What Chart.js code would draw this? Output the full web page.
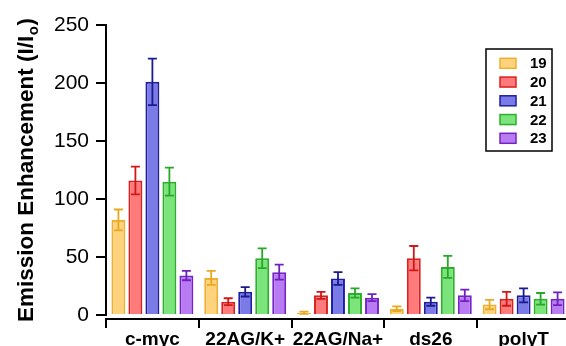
<!DOCTYPE html>
<html>
<head>
<meta charset="utf-8">
<script src="https://cdn.jsdelivr.net/npm/chart.js@4"></script>
<style>
  html, body { margin: 0; padding: 0; background: #fff; overflow: hidden; }
  #wrap { width: 572px; height: 346px; }
</style>
</head>
<body>
<div id="wrap"><canvas id="chart"></canvas></div>
<script>
// data
const categories = ["c-myc", "22AG/K+", "22AG/Na+", "ds26", "polyT"];
const seriesNames = ["19", "20", "21", "22", "23"];

const values19 = [82, 32, 2, 5.5, 9];
const err19 = [9, 6, 1, 2, 4];
const values20 = [116, 11.5, 17, 49, 14];
const err20 = [12, 3, 3, 10.5, 6];
const values21 = [201, 20, 31.5, 11.5, 17];
const err21 = [20, 4, 5.5, 3.5, 6];
const values22 = [115, 49, 19, 41.5, 14];
const err22 = [12, 8.5, 4, 9.5, 5];
const values23 = [34, 37, 15, 17, 14];
const err23 = [4, 6.5, 3, 5, 5.5];

const yTicks = [0, 50, 100, 150, 200, 250];

const FONT = "'Liberation Sans', Arial, sans-serif";

// fill, border, error bar colour per series
const fills = ["#ffd27d", "#ff7b7b", "#7b7be8", "#7be57b", "#b97bf2"];
const borders = ["#eeb032", "#dc2020", "#1e1ea0", "#2cb02c", "#7424c4"];
const errColors = ["#e8a820", "#d01818", "#1a1a90", "#28a828", "#7020c0"];

const allValues = [values19, values20, values21, values22, values23];
const allErrs = [err19, err20, err21, err22, err23];

const datasets = seriesNames.map((name, i) => ({
  label: name,
  data: allValues[i],
  errors: allErrs[i],
  backgroundColor: fills[i],
  borderColor: borders[i],
  errColor: errColors[i],
  borderWidth: 2,
  categoryPercentage: 0.916,
  barPercentage: 0.82,
}));

// error bars, both directions, with caps
const errorBars = {
  id: "errorBars",
  afterDatasetsDraw(chart) {
    const ctx = chart.ctx;
    const yScale = chart.scales.y;
    chart.data.datasets.forEach((ds, di) => {
      const meta = chart.getDatasetMeta(di);
      meta.data.forEach((bar, i) => {
        const v = ds.data[i];
        const e = ds.errors[i];
        const top = yScale.getPixelForValue(v + e);
        const bot = yScale.getPixelForValue(Math.max(v - e, 0));
        const cap = 4.5;
        ctx.save();
        ctx.strokeStyle = ds.errColor;
        ctx.lineWidth = 1.8;
        ctx.beginPath();
        ctx.moveTo(bar.x, top);
        ctx.lineTo(bar.x, bot);
        ctx.moveTo(bar.x - cap, top);
        ctx.lineTo(bar.x + cap, top);
        ctx.moveTo(bar.x - cap, bot);
        ctx.lineTo(bar.x + cap, bot);
        ctx.stroke();
        ctx.restore();
      });
    });
  },
};

// y axis line (stops at 0), rotated title with subscript, boxed legend
const extras = {
  id: "extras",
  afterDraw(chart) {
    const ctx = chart.ctx;
    const y = chart.scales.y;
    const left = chart.chartArea.left;
    ctx.save();
    ctx.strokeStyle = "#000";
    ctx.lineWidth = 2;
    ctx.beginPath();
    ctx.moveTo(left, y.getPixelForValue(250) - 1);
    ctx.lineTo(left, y.getPixelForValue(0) + 1);
    ctx.stroke();

    // y title
    ctx.translate(33, 322);
    ctx.rotate(-Math.PI / 2);
    ctx.fillStyle = "#000";
    ctx.textBaseline = "alphabetic";
    ctx.textAlign = "left";
    ctx.font = "bold 22.5px " + FONT;
    const part1 = "Emission Enhancement (I/I";
    ctx.fillText(part1, 0, 0);
    let x = ctx.measureText(part1).width;
    ctx.font = "bold 15px " + FONT;
    ctx.fillText("o", x + 0.5, 5);
    x += ctx.measureText("o").width + 1;
    ctx.font = "bold 22.5px " + FONT;
    ctx.fillText(")", x, 0);
    ctx.restore();

    // legend
    ctx.save();
    ctx.strokeStyle = "#000";
    ctx.lineWidth = 1.5;
    ctx.fillStyle = "#fff";
    ctx.fillRect(486, 49, 66, 102);
    ctx.strokeRect(486, 49, 66, 102);
    chart.data.datasets.forEach((ds, i) => {
      const cy = 63.3 + i * 18.75;
      ctx.fillStyle = ds.backgroundColor;
      ctx.fillRect(500, cy - 5, 16, 10);
      ctx.strokeStyle = ds.borderColor;
      ctx.lineWidth = 1.5;
      ctx.strokeRect(500, cy - 5, 16, 10);
      ctx.fillStyle = "#000";
      ctx.font = "bold 15px " + FONT;
      ctx.textBaseline = "middle";
      ctx.textAlign = "left";
      ctx.fillText(ds.label, 530, cy + 1);
    });
    ctx.restore();
  },
};

new Chart(document.getElementById("chart"), {
  type: "bar",
  data: {
    labels: categories,
    datasets: datasets,
  },
  options: {
    responsive: true,
    maintainAspectRatio: false,
    animation: false,
    layout: { padding: { top: 25, right: 2, left: 0, bottom: 0 } },
    plugins: {
      legend: { display: false },
      tooltip: { enabled: false },
    },
    scales: {
      x: {
        offset: true,
        grid: {
          offset: true,
          drawOnChartArea: false,
          drawTicks: true,
          tickLength: 9,
          color: "#000",
          lineWidth: 2,
        },
        border: { display: true, color: "#000", width: 2 },
        ticks: {
          color: "#000",
          font: { family: FONT, size: 19, weight: "bold" },
          autoSkip: false,
          maxRotation: 0,
          minRotation: 0,
          padding: 0,
        },
        afterFit(scale) {
          scale.height = 27;
        },
      },
      y: {
        min: -3.4,
        max: 250,
        afterBuildTicks(scale) {
          scale.ticks = yTicks.map((v) => ({ value: v }));
        },
        grid: {
          drawOnChartArea: false,
          drawTicks: true,
          tickLength: 10,
          color: "#000",
          lineWidth: 2,
        },
        border: { display: false },
        ticks: {
          color: "#000",
          font: { family: FONT, size: 21 },
          padding: 7,
        },
        afterFit(scale) {
          scale.width = 106;
        },
      },
    },
  },
  plugins: [errorBars, extras],
});
</script>
</body>
</html>
